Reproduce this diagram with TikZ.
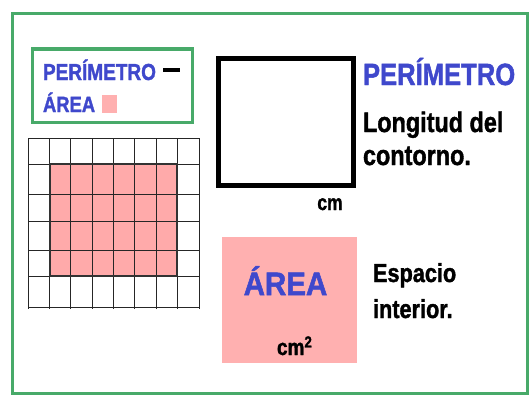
\documentclass[tikz,border=0pt]{standalone}
\usepackage{fontspec}
\usepackage{graphicx}
\setmainfont{Liberation Sans}
\newfontfamily\heavyfont{Liberation Sans Bold}[FakeBold=1.6]
\definecolor{frameg}{RGB}{72,170,105}
\definecolor{tblue}{RGB}{63,72,204}
\definecolor{apink}{RGB}{255,176,176}
\definecolor{gpink}{RGB}{255,170,170}
\newcommand{\txt}[3]{{\heavyfont\fontsize{#1}{#1}\selectfont\scalebox{1}[#2]{#3}}}
\tikzset{
  lbl/.style={inner sep=0pt, outer sep=0pt, anchor=base west},
  lblc/.style={inner sep=0pt, outer sep=0pt, anchor=base},
  gridline/.style={line width=0.9pt, black!85},
}
\begin{document}
\begin{tikzpicture}[x=1pt,y=-1pt]
\useasboundingbox (0,0) rectangle (529,396);
\fill[white] (0,0) rectangle (529,396);
% outer frame
\draw[frameg, line width=3pt] (12,14) rectangle (527,393);
% legend box
\draw[frameg, line width=3pt] (32,49) rectangle (192,122);
\node[lbl, text=tblue] (legp) at (43,80) {\txt{19}{1.22}{PERÍMETRO}};
\coordinate (dashA) at (163,70);
\coordinate (dashB) at (180,70);
\draw[line width=3.5pt] (dashA) -- (dashB);
\node[lbl, text=tblue] (lega) at (43,112) {\txt{18.4}{1.2}{ÁREA}};
\fill[apink] (102,95) rectangle (117,113);
% grid with pink area
\fill[gpink] (50,164) rectangle (177,276);
\foreach \x in {28,49.4,70.8,92.1,113.5,134.9,156.3,177.6,199} {
  \draw[gridline] (\x,138) -- (\x,309);
}
\foreach \y in {138,164,194,221,250,276,307} {
  \draw[gridline] (28,\y) -- (199,\y);
}
\draw[line width=2pt, black!80] (50,164) rectangle (177,276);
% perimeter square
\draw[line width=5pt] (218,58) rectangle (353,185);
\node[lblc] (cm) at (330,210) {\txt{17.5}{1.25}{cm}};
\node[lbl, text=tblue] (perim) at (363,85) {\txt{25.6}{1.2}{PERÍMETRO}};
\node[lbl] (long) at (363,132) {\txt{23.4}{1.2}{Longitud del}};
\node[lbl] (cont) at (363,165) {\txt{23.4}{1.2}{contorno.}};
% area box
\fill[apink] (222,237) rectangle (357,363);
\node[lblc, text=tblue] (area) at (285.5,295) {\txt{29.5}{1.1}{ÁREA}};
\node[lbl] (cm2) at (277,355) {\txt{19}{1.2}{cm\textsuperscript{2}}};
\node[lbl] (esp) at (373,282) {\txt{21.7}{1.2}{Espacio}};
\node[lbl] (inte) at (373,318) {\txt{21.7}{1.2}{interior.}};
\end{tikzpicture}
\end{document}
